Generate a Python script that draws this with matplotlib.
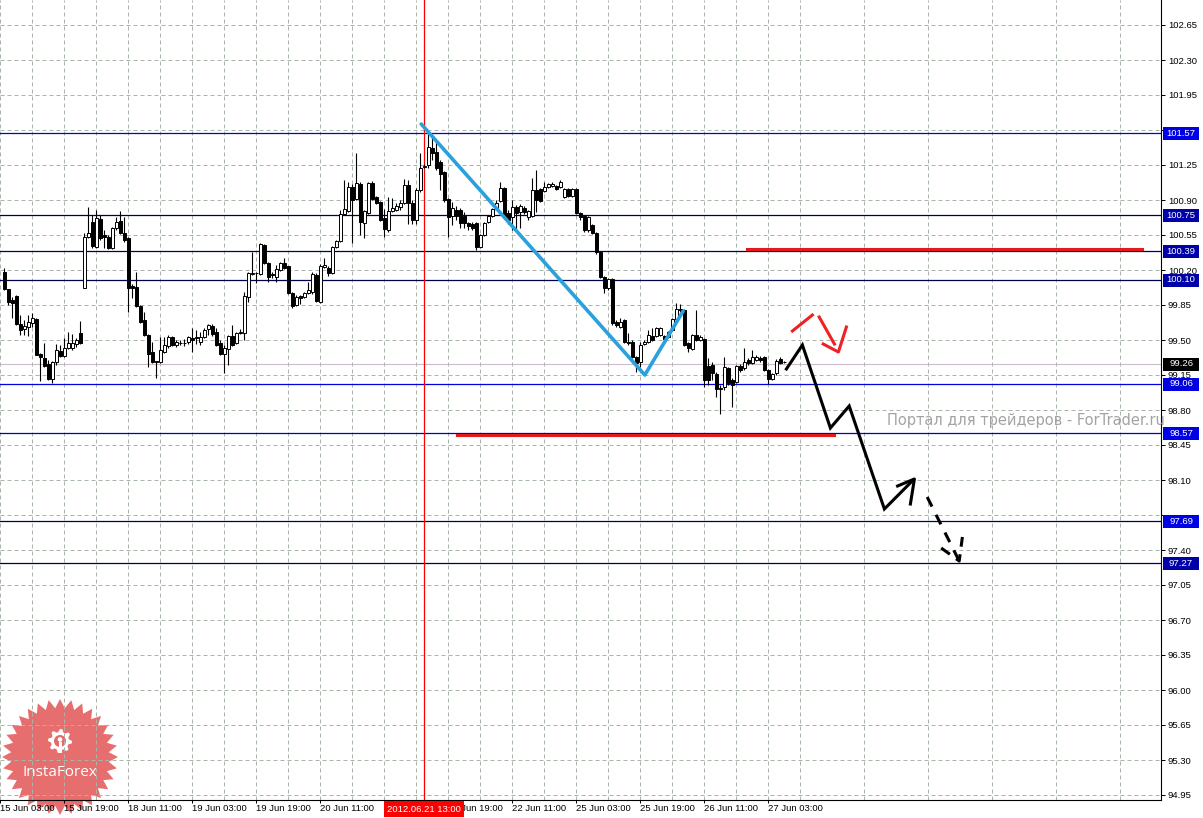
import numpy as np
import matplotlib.pyplot as plt
from matplotlib.patches import Rectangle, Polygon, Circle
from matplotlib.transforms import Affine2D, IdentityTransform, blended_transform_factory

W, H = 1203, 818

# hourly candles, bar 0 = 15 Jun 04:00
opens = [100.18, 100.01, 99.90, 99.94, 99.66, 99.61, 99.63, 99.67, 99.71, 99.36,
         99.32, 99.26, 99.11, 99.28, 99.39, 99.34, 99.42, 99.42, 99.46, 99.57,
         100.02, 100.53, 100.68, 100.43, 100.71, 100.55, 100.53, 100.42, 100.62, 100.69,
         100.57, 100.52, 100.04, 100.03, 99.84, 99.70, 99.55, 99.38, 99.29, 99.28,
         99.38, 99.44, 99.53, 99.45, 99.47, 99.47, 99.48, 99.52, 99.53, 99.48,
         99.53, 99.61, 99.64, 99.58, 99.47, 99.36, 99.41, 99.54, 99.47, 99.57,
         99.57, 99.93, 100.16, 100.17, 100.16, 100.45, 100.27, 100.15, 100.13, 100.20,
         100.27, 100.24, 99.97, 99.85, 99.94, 99.93, 99.97, 99.98, 100.15, 99.88,
         100.23, 100.22, 100.17, 100.43, 100.49, 100.76, 100.79, 101.03, 100.91, 101.06,
         100.67, 100.77, 101.07, 100.93, 100.88, 100.72, 100.60, 100.79, 100.80, 100.83,
         100.87, 101.05, 100.87, 100.70, 101.00, 101.23, 101.25, 101.42, 101.38, 101.28,
         101.18, 100.91, 100.74, 100.80, 100.80, 100.74, 100.67, 100.66, 100.67, 100.43,
         100.55, 100.68, 100.74, 100.81, 100.89, 101.02, 100.77, 100.73, 100.83, 100.78,
         100.82, 100.73, 100.74, 101.00, 101.01, 100.99, 101.03, 101.04, 101.04, 101.03,
         100.93, 101.01, 100.94, 101.01, 100.77, 100.74, 100.60, 100.65, 100.57, 100.38,
         100.13, 100.02, 100.11, 99.68, 99.63, 99.70, 99.48, 99.48, 99.33, 99.28,
         99.46, 99.48, 99.54, 99.54, 99.55, 99.54, 99.53, 99.60, 99.71, 99.81,
         99.80, 99.47, 99.41, 99.55, 99.50, 99.51, 99.24, 99.25, 99.16, 99.01,
         99.03, 99.22, 99.10, 99.08, 99.24, 99.22, 99.30, 99.27, 99.30, 99.32,
         99.33, 99.20, 99.11, 99.17, 99.31, 99.28]
highs = [100.22, 100.01, 99.93, 99.95, 99.75, 99.70, 99.75, 99.77, 99.72, 99.37,
         99.47, 99.30, 99.29, 99.46, 99.45, 99.52, 99.58, 99.56, 99.52, 99.69,
         100.57, 100.83, 100.75, 100.80, 100.75, 100.60, 100.55, 100.63, 100.73, 100.79,
         100.73, 100.53, 100.06, 100.18, 99.85, 99.78, 99.56, 99.48, 99.29, 99.53,
         99.53, 99.55, 99.54, 99.50, 99.50, 99.51, 99.54, 99.62, 99.60, 99.58,
         99.62, 99.66, 99.66, 99.62, 99.50, 99.45, 99.55, 99.65, 99.58, 99.61,
         99.98, 100.18, 100.38, 100.18, 100.47, 100.46, 100.28, 100.18, 100.25, 100.28,
         100.32, 100.24, 99.98, 99.95, 99.95, 99.98, 100.08, 100.18, 100.17, 100.26,
         100.32, 100.24, 100.44, 100.50, 100.80, 101.10, 101.08, 101.06, 101.37, 101.08,
         100.80, 101.08, 101.09, 100.94, 100.89, 100.81, 100.93, 100.92, 100.87, 100.90,
         101.11, 101.10, 100.90, 101.02, 101.37, 101.26, 101.57, 101.55, 101.48, 101.30,
         101.19, 100.92, 100.88, 100.84, 100.82, 100.78, 100.68, 100.68, 100.68, 100.56,
         100.68, 100.75, 100.82, 100.90, 101.08, 101.03, 100.80, 100.90, 100.85, 100.86,
         100.84, 100.80, 101.12, 101.20, 101.02, 101.08, 101.07, 101.08, 101.05, 101.10,
         101.02, 101.02, 101.02, 101.02, 100.78, 100.75, 100.74, 100.66, 100.58, 100.39,
         100.14, 100.12, 100.12, 99.70, 99.72, 99.71, 99.57, 99.50, 99.34, 99.48,
         99.50, 99.60, 99.62, 99.63, 99.63, 99.55, 99.59, 99.72, 99.87, 99.86,
         99.81, 99.48, 99.56, 99.80, 99.55, 99.52, 99.32, 99.28, 99.18, 99.05,
         99.33, 99.23, 99.12, 99.25, 99.26, 99.42, 99.32, 99.40, 99.35, 99.34,
         99.34, 99.21, 99.17, 99.31, 99.33, 99.29]
lows = [100.00, 99.85, 99.72, 99.65, 99.55, 99.55, 99.54, 99.63, 99.35, 99.09,
        99.23, 99.10, 99.07, 99.25, 99.33, 99.33, 99.41, 99.40, 99.43, 99.46,
        100.02, 100.52, 100.42, 100.42, 100.50, 100.42, 100.41, 100.41, 100.60, 100.56,
        100.48, 99.78, 99.92, 99.83, 99.67, 99.54, 99.23, 99.27, 99.12, 99.27,
        99.37, 99.42, 99.44, 99.43, 99.45, 99.44, 99.46, 99.38, 99.46, 99.45,
        99.52, 99.55, 99.54, 99.44, 99.35, 99.17, 99.25, 99.44, 99.46, 99.56,
        99.50, 99.88, 100.15, 100.07, 100.15, 100.26, 100.08, 100.12, 100.08, 100.19,
        100.21, 99.96, 99.82, 99.84, 99.86, 99.92, 99.96, 99.96, 99.88, 99.87,
        100.22, 100.14, 100.16, 100.42, 100.48, 100.75, 100.78, 100.47, 100.90, 100.55,
        100.52, 100.76, 100.90, 100.86, 100.69, 100.53, 100.58, 100.78, 100.79, 100.80,
        100.86, 100.66, 100.66, 100.66, 100.98, 101.22, 101.22, 101.30, 101.20, 101.00,
        100.88, 100.53, 100.65, 100.70, 100.62, 100.62, 100.60, 100.60, 100.40, 100.42,
        100.54, 100.67, 100.73, 100.80, 100.88, 100.72, 100.66, 100.60, 100.60, 100.62,
        100.76, 100.70, 100.73, 100.78, 100.88, 100.98, 101.02, 101.03, 101.00, 101.02,
        100.92, 100.93, 100.93, 100.76, 100.70, 100.58, 100.58, 100.56, 100.36, 100.12,
        99.97, 100.00, 99.65, 99.63, 99.62, 99.47, 99.45, 99.32, 99.18, 99.23,
        99.45, 99.47, 99.49, 99.53, 99.54, 99.50, 99.52, 99.59, 99.70, 99.78,
        99.44, 99.38, 99.40, 99.49, 99.49, 99.03, 99.05, 99.10, 98.93, 98.76,
        99.00, 99.05, 98.83, 99.07, 99.18, 99.20, 99.25, 99.26, 99.29, 99.28,
        99.19, 99.06, 99.10, 99.15, 99.26, 99.27]
closes = [100.01, 99.88, 99.87, 99.66, 99.60, 99.64, 99.68, 99.72, 99.35, 99.33,
          99.24, 99.11, 99.28, 99.40, 99.34, 99.42, 99.47, 99.47, 99.50, 99.47,
          100.53, 100.57, 100.44, 100.72, 100.52, 100.53, 100.42, 100.62, 100.68, 100.57,
          100.50, 100.02, 100.02, 99.84, 99.68, 99.55, 99.36, 99.28, 99.28, 99.40,
          99.45, 99.53, 99.45, 99.48, 99.47, 99.47, 99.53, 99.50, 99.52, 99.53,
          99.60, 99.65, 99.56, 99.45, 99.36, 99.42, 99.54, 99.45, 99.57, 99.58,
          99.94, 100.17, 100.17, 100.17, 100.46, 100.27, 100.13, 100.16, 100.21, 100.27,
          100.22, 99.97, 99.84, 99.93, 99.92, 99.97, 100.00, 100.16, 99.89, 100.24,
          100.25, 100.17, 100.43, 100.49, 100.76, 100.81, 101.03, 100.90, 101.07, 100.68,
          100.79, 101.07, 100.91, 100.87, 100.70, 100.61, 100.79, 100.82, 100.84, 100.87,
          101.05, 100.87, 100.70, 101.00, 101.22, 101.24, 101.43, 101.37, 101.22, 101.16,
          100.90, 100.73, 100.82, 100.74, 100.67, 100.67, 100.64, 100.62, 100.43, 100.55,
          100.67, 100.74, 100.81, 100.87, 101.02, 100.73, 100.70, 100.83, 100.77, 100.84,
          100.78, 100.79, 101.00, 100.90, 100.89, 101.03, 101.06, 101.06, 101.01, 101.08,
          101.01, 100.94, 101.01, 100.77, 100.73, 100.60, 100.73, 100.57, 100.38, 100.13,
          100.02, 100.11, 99.67, 99.65, 99.68, 99.48, 99.47, 99.33, 99.27, 99.45,
          99.48, 99.55, 99.50, 99.62, 99.62, 99.51, 99.58, 99.71, 99.81, 99.80,
          99.45, 99.42, 99.55, 99.50, 99.53, 99.10, 99.10, 99.17, 99.01, 99.02,
          99.23, 99.07, 99.05, 99.24, 99.20, 99.28, 99.27, 99.33, 99.33, 99.30,
          99.20, 99.11, 99.16, 99.29, 99.27, 99.28]

# axis ticks
price_ticks = [102.65, 102.30, 101.95, 101.60, 101.25, 100.90, 100.55, 100.20, 99.85,
               99.50, 99.15, 98.80, 98.45, 98.10, 97.75, 97.40, 97.05, 96.70, 96.35,
               96.00, 95.65, 95.30, 94.95]
time_labels = ['15 Jun 03:00', '15 Jun 19:00', '18 Jun 11:00', '19 Jun 03:00',
               '19 Jun 19:00', '20 Jun 11:00', '21 Jun 03:00', '21 Jun 19:00',
               '22 Jun 11:00', '25 Jun 03:00', '25 Jun 19:00', '26 Jun 11:00',
               '27 Jun 03:00']
time_ticks = [-1 + 16 * k for k in range(len(time_labels))]

# horizontal levels
levels = [101.57, 100.75, 100.39, 100.10, 99.06, 98.57, 97.69, 97.27]
level_line_col = ['#0000e0', '#000050', '#000050', '#000050', '#0000e0', '#0000c0', '#000050', '#000050']
level_box_col = ['#0000e6', '#0000a8', '#0000a8', '#0000a8', '#0000e0', '#0000e6', '#0000e6', '#0000a8']
bid = 99.26

cursor_bar = 105
cursor_label = '2012.06.21 13:00'

# drawings (bar index, price)
trend_x = [104.3, 160.2, 169.8]
trend_y = [101.66, 99.15, 99.79]
red_lvl_x = [(185.8, 284.6), (113.3, 207.6)]
red_lvl_y = [100.41, 98.55]
path_x = [195.6, 199.6, 206.6, 211.3, 220.1, 227.3]
path_y = [99.21, 99.45, 98.62, 98.84, 97.81, 98.10]
head1_x = [223.4, 227.6, 226.6]
head1_y = [98.04, 98.11, 97.86]
dash_x = [230.8, 238.8]
dash_y = [97.93, 97.29]
head2_x = [234.3, 238.8, 239.6]
head2_y = [97.42, 97.29, 97.53]
red_a_x, red_a_y = [197.1, 202.1], [99.59, 99.75]
red_b_x, red_b_y = [203.8, 207.6], [99.73, 99.46]
red_c_x, red_c_y = [204.8, 208.6, 210.6], [99.46, 99.38, 99.63]

plt.rcParams['font.family'] = ['DejaVu Sans']
tick_font = 'Liberation Sans'

fig = plt.figure(figsize=(W / 100, H / 100), dpi=100)
fig.patch.set_facecolor('white')
ax = fig.add_axes([0, 18 / H, 1161 / W, 800 / H])
ax.set_xlim(-1, 289.25)
ax.set_ylim(94.90, 102.90)

for s in ['top', 'left']:
    ax.spines[s].set_visible(False)
for s in ['right', 'bottom']:
    ax.spines[s].set_linewidth(0.8)
    ax.spines[s].set_color('black')

# ticks / grid
ax.yaxis.tick_right()
ax.set_yticks(price_ticks)
ax.set_yticklabels(['%.2f' % v for v in price_ticks], fontsize=6.8, family=tick_font)
ax.set_xticks(time_ticks)
ax.set_xticklabels(time_labels, fontsize=6.8, family=tick_font, ha='left')
ax.set_xticks([-1 + 8 * k for k in range(37) if k % 2 == 1], minor=True)
ax.tick_params(axis='y', direction='out', length=3, width=0.7, pad=2)
ax.tick_params(axis='x', which='major', direction='out', length=2.5, width=0.7, pad=0.6)
ax.tick_params(axis='x', which='minor', length=0)
ax.grid(True, which='both', color='#a9b5a9', lw=0.72, linestyle=(0, (4, 3)))

# labels that sit fully under the level / cursor boxes in the terminal
for lab, v in zip(ax.get_yticklabels(), price_ticks):
    if any(abs(v - lv) < 0.07 for lv in levels):
        lab.set_visible(False)
for lab, t in zip(ax.get_xticklabels(), time_ticks):
    if cursor_bar - 10 <= t <= cursor_bar:
        lab.set_visible(False)

# levels
ax.axhline(bid, color='#cbbccb', lw=0.8, zorder=1.8)
for lv, c in zip(levels, level_line_col):
    ax.axhline(lv, color=c, lw=0.9, zorder=2)
ax.axvline(cursor_bar, color='#ff0000', lw=0.9, zorder=2)

# candles
idx = np.arange(len(opens))
o, h, l, c = map(np.array, (opens, highs, lows, closes))
ax.vlines(idx, l, h, color='black', lw=0.8, zorder=3)
bottom = np.minimum(o, c)
height = np.maximum(np.abs(c - o), 0.004)
fill = np.where(c >= o, 'white', 'black')
ax.bar(idx, height, bottom=bottom, width=0.75, color=fill, edgecolor='black',
       linewidth=0.7, zorder=3.1)

# analysis drawings
ax.plot(trend_x, trend_y, color='#2aa0dc', lw=2.6, solid_capstyle='round', solid_joinstyle='round', zorder=4)
for (x0, x1), y in zip(red_lvl_x, red_lvl_y):
    ax.plot([x0, x1], [y, y], color='#e41a1c', lw=2.2, zorder=4)
ax.plot(path_x, path_y, color='black', lw=2.2, solid_joinstyle='miter', zorder=4)
ax.plot(head1_x, head1_y, color='black', lw=2.2, zorder=4)
ax.plot(dash_x, dash_y, color='black', lw=2.2, linestyle=(0, (3.5, 3)), zorder=4)
ax.plot(head2_x, head2_y, color='black', lw=2.2, linestyle=(0, (3.5, 2.5)), zorder=4)
for xs, ys in [(red_a_x, red_a_y), (red_b_x, red_b_y), (red_c_x, red_c_y)]:
    ax.plot(xs, ys, color='#ee2222', lw=2.2, zorder=4)

# right price boxes
ty = blended_transform_factory(IdentityTransform(), ax.transData)
def price_box(p, col):
    ax.add_patch(Rectangle((1163, p - 0.065), 36, 0.13, transform=ty, facecolor=col,
                           edgecolor='none', clip_on=False, zorder=6))
    ax.text(1181, p, '%.2f' % p, transform=ty, color='white', fontsize=6.8, family=tick_font,
            ha='center', va='center', clip_on=False, zorder=7)
for lv, col in zip(levels, level_box_col):
    price_box(lv, col)
price_box(bid, 'black')

# cursor time box
tx = blended_transform_factory(ax.transData, IdentityTransform())
ax.add_patch(Rectangle((cursor_bar - 10, H - 817), 20, 16, transform=tx, facecolor='#ff0000',
                       edgecolor='none', clip_on=False, zorder=6))
ax.text(cursor_bar, H - 809, cursor_label, transform=tx, color='white', fontsize=6.8,
        family=tick_font, ha='center', va='center', clip_on=False, zorder=7)

# watermark and logo (pixel positions)
px = Affine2D().scale(1, -1).translate(0, H)
ax.text(887, 420, 'Портал для трейдеров - ForTrader.ru', transform=px, color='#a3a3a3',
        fontsize=10.5, ha='left', va='center', clip_on=False, zorder=5)

cx, cy, n = 60, 757, 32
ang = np.linspace(0, 2 * np.pi, 2 * n, endpoint=False) + np.pi / 2
rad = np.where(np.arange(2 * n) % 2 == 0, 58, 49)
star = np.column_stack([cx + rad * np.cos(ang), cy + rad * np.sin(ang)])
ax.add_patch(Polygon(star, closed=True, transform=px, facecolor='#e35555', alpha=0.85,
                     edgecolor='none', clip_on=False, zorder=1))
gx, gy = 60, 741
ga = np.linspace(0, 2 * np.pi, 32, endpoint=False)
gr = np.where((np.arange(32) // 2) % 2 == 0, 12, 9)
gear = np.column_stack([gx + gr * np.cos(ga), gy + gr * np.sin(ga)])
ax.add_patch(Polygon(gear, closed=True, transform=px, facecolor='white', edgecolor='none',
                     clip_on=False, zorder=1.1))
ax.add_patch(Circle((gx, gy), 6, transform=px, facecolor='#e66a6a', edgecolor='none',
                    clip_on=False, zorder=1.2))
ax.add_patch(Circle((gx, gy - 1.5), 2.3, transform=px, facecolor='white', edgecolor='none',
                    clip_on=False, zorder=1.3))
ax.add_patch(Rectangle((gx - 1.5, gy + 1), 3, 11, transform=px, facecolor='white',
                       edgecolor='none', clip_on=False, zorder=1.3))
ax.text(60, 772, 'InstaForex', transform=px, color='white', fontsize=11, family='Open Sans',
        ha='center', va='center', clip_on=False, zorder=1.3)

fig.savefig('out.png', dpi=100, facecolor='white')
